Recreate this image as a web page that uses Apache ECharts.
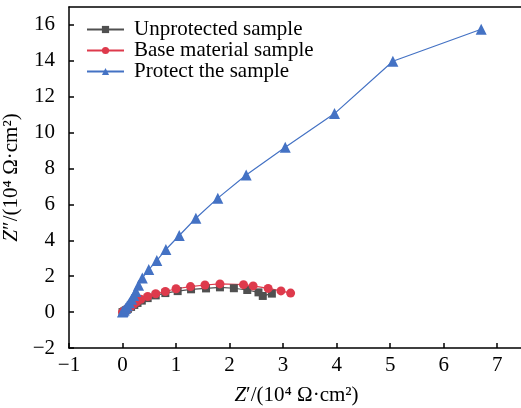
<!DOCTYPE html>
<html>
<head>
<meta charset="utf-8">
<script src="https://cdn.jsdelivr.net/npm/echarts@6/dist/echarts.min.js"></script>
<style>
  html, body { margin: 0; padding: 0; background: #fff; }
  #chart { width: 521px; height: 408px; }
</style>
</head>
<body>
<div id="chart"></div>
<script>
// Nyquist data, Z' and Z'' in 10^4 ohm·cm2
var seriesNames = ["Unprotected sample", "Base material sample", "Protect the sample"];

var unprotectedX = [0, 0.03, 0.06, 0.10, 0.16, 0.22, 0.28, 0.36, 0.47, 0.62, 0.80, 1.03, 1.28, 1.56, 1.82, 2.08, 2.33, 2.54, 2.62, 2.79];
var unprotectedY = [0, 0.04, 0.10, 0.18, 0.29, 0.40, 0.51, 0.64, 0.78, 0.93, 1.06, 1.17, 1.27, 1.32, 1.38, 1.33, 1.23, 1.10, 0.90, 1.03];

var baseX = [0, 0.03, 0.06, 0.10, 0.16, 0.21, 0.27, 0.34, 0.47, 0.62, 0.80, 1.00, 1.27, 1.54, 1.82, 2.26, 2.44, 2.72, 2.96, 3.14];
var baseY = [0, 0.05, 0.12, 0.22, 0.33, 0.45, 0.57, 0.71, 0.87, 1.02, 1.15, 1.30, 1.42, 1.51, 1.57, 1.53, 1.46, 1.32, 1.18, 1.06];

var protectX = [0, 0.01, 0.03, 0.06, 0.09, 0.13, 0.17, 0.21, 0.25, 0.30, 0.37, 0.49, 0.64, 0.81, 1.06, 1.37, 1.78, 2.31, 3.04, 3.96, 5.05, 6.70];
var protectY = [0, 0.03, 0.10, 0.22, 0.36, 0.52, 0.72, 0.93, 1.15, 1.50, 1.90, 2.37, 2.87, 3.49, 4.27, 5.23, 6.35, 7.64, 9.19, 11.06, 13.98, 15.76];

function pairs(xs, ys) {
  var out = [];
  for (var i = 0; i < xs.length; i++) out.push([xs[i], ys[i]]);
  return out;
}

function minusLabel(v) {
  return v < 0 ? "\u2212" + Math.abs(v) : String(v);
}

var font = "'Liberation Serif', 'Times New Roman', serif";
var fs = 21;
var chart = echarts.init(document.getElementById("chart"));

var nameStyle = {
  fontFamily: font, fontSize: fs, color: "#000",
  rich: { i: { fontFamily: font, fontSize: fs, fontStyle: "italic", color: "#000" } }
};

var option = {
  animation: false,
  textStyle: { fontFamily: font },
  grid: { left: 69, right: -3, top: 7, bottom: 60, outerBoundsMode: "none", containLabel: false },
  legend: {
    orient: "vertical",
    left: 81,
    top: 14,
    itemWidth: 37,
    itemHeight: 9,
    itemGap: 0,
    textStyle: { fontFamily: font, fontSize: fs, color: "#000", lineHeight: 21, padding: [0, 0, 0, 5] },
    data: seriesNames
  },
  xAxis: [{
    type: "value",
    min: -1,
    max: 7.5,
    interval: 1,
    name: "{i|Z}′/(10⁴ Ω·cm²)",
    nameLocation: "middle",
    nameGap: 37,
    nameTextStyle: nameStyle,
    axisLine: { onZero: false, lineStyle: { color: "#000", width: 1.5 } },
    axisTick: { inside: true, length: 5, lineStyle: { color: "#000", width: 1.5 } },
    axisLabel: { fontFamily: font, fontSize: fs, color: "#000", margin: 7, showMaxLabel: false, formatter: minusLabel },
    splitLine: { show: false }
  }, {
    type: "value",
    position: "top",
    min: -1,
    max: 7.5,
    axisLine: { onZero: false, lineStyle: { color: "#000", width: 1.5 } },
    axisTick: { show: false },
    axisLabel: { show: false },
    splitLine: { show: false }
  }],
  yAxis: {
    type: "value",
    min: -2,
    max: 17,
    interval: 2,
    name: "{i|Z}″/(10⁴ Ω·cm²)",
    nameLocation: "middle",
    nameGap: 38,
    nameTextStyle: nameStyle,
    axisLine: { onZero: false, lineStyle: { color: "#000", width: 1.5 } },
    axisTick: { inside: true, length: 5, lineStyle: { color: "#000", width: 1.5 } },
    axisLabel: { fontFamily: font, fontSize: fs, color: "#000", margin: 14, showMaxLabel: false, formatter: minusLabel },
    splitLine: { show: false }
  },
  series: [
    {
      name: seriesNames[0],
      type: "line",
      data: pairs(unprotectedX, unprotectedY),
      symbol: "rect",
      symbolSize: 8,
      itemStyle: { color: "#505050" },
      lineStyle: { color: "#505050", width: 1.2 }
    },
    {
      name: seriesNames[1],
      type: "line",
      data: pairs(baseX, baseY),
      symbol: "circle",
      symbolSize: 9,
      itemStyle: { color: "#DE3A4C" },
      lineStyle: { color: "#DE3A4C", width: 1.2 }
    },
    {
      name: seriesNames[2],
      type: "line",
      data: pairs(protectX, protectY),
      symbol: "triangle",
      symbolSize: 11,
      itemStyle: { color: "#4472C4" },
      lineStyle: { color: "#4472C4", width: 1.2 }
    }
  ]
};
chart.setOption(option);
</script>
</body>
</html>
